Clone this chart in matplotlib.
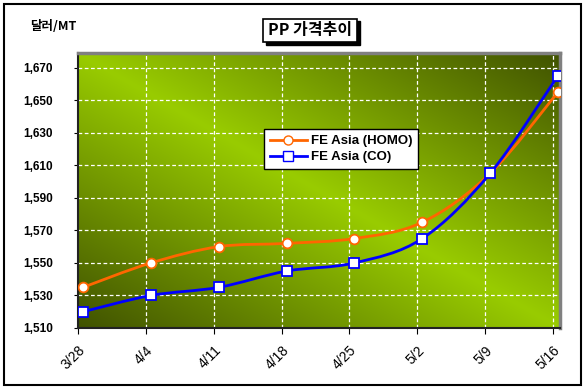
import numpy as np
import matplotlib
matplotlib.use("Agg")
import matplotlib.pyplot as plt
from matplotlib.path import Path
from matplotlib.patches import PathPatch, Rectangle
from matplotlib.lines import Line2D

plt.rcParams['font.family'] = ['Noto Sans CJK KR', 'DejaVu Sans']

dates = ["3/28", "4/4", "4/11", "4/18", "4/25", "5/2", "5/9", "5/16"]
homo = [1535, 1550, 1560, 1562, 1565, 1575, 1605, 1655]
co = [1520, 1530, 1535, 1545, 1550, 1565, 1605, 1665]
yticks = [1510, 1530, 1550, 1570, 1590, 1610, 1630, 1650, 1670]

title = "PP 가격추이"
unit = "달러/MT"
names = ["FE Asia (HOMO)", "FE Asia (CO)"]

ORANGE = "#FF6600"
BLUE = "#0000FF"
LIGHT = np.array([0x99, 0xCC, 0x00]) / 255
DARK = np.array([0x40, 0x52, 0x00]) / 255


def smooth_path(x, y):
    # Catmull-Rom style smoothing drawn as cubic Bezier segments
    pts = np.column_stack([x, y]).astype(float)
    verts = [pts[0]]
    codes = [Path.MOVETO]
    n = len(pts)
    for i in range(n - 1):
        p0 = pts[max(i - 1, 0)]
        p1 = pts[i]
        p2 = pts[i + 1]
        p3 = pts[min(i + 2, n - 1)]
        c1 = p1 + (p2 - p0) / 6
        c2 = p2 - (p3 - p1) / 6
        verts += [c1, c2, p2]
        codes += [Path.CURVE4] * 3
    return Path(verts, codes)


fig = plt.figure(figsize=(5.88, 3.91), dpi=100)
fig.patches.append(Rectangle((4 / 588, 1 - 385 / 391), 577 / 588, 381 / 391,
                             transform=fig.transFigure, fill=False,
                             edgecolor="black", lw=1.5))

ax = fig.add_axes([78 / 588, 1 - 328 / 391, 482 / 588, 275 / 391])

x = np.arange(len(dates))
xoff = 0.075
xlim = (-xoff, 7.03)
ylim = (1510, 1679)

# gradient background: light along top-left -> bottom-right diagonal
u = np.linspace(0, 1, 300)
w = np.linspace(0, 1, 200)   # row 0 = top
U, W = np.meshgrid(u, w)
t = 1 - np.abs(U - W)
img = DARK[None, None, :] + (LIGHT - DARK)[None, None, :] * t[:, :, None]
ax.imshow(img, extent=(xlim[0], xlim[1], ylim[0], ylim[1]), origin="upper",
          aspect="auto", zorder=0, interpolation="bilinear")

ax.set_xlim(*xlim)
ax.set_ylim(*ylim)

for tx in x[1:] - xoff:
    ax.axvline(tx, color="white", lw=0.9, ls=(0, (3, 2)), zorder=1)
for ty in yticks[1:]:
    ax.axhline(ty, color="white", lw=0.9, ls=(0, (3, 2)), zorder=1)

for vals, col, mk, ms in [(homo, ORANGE, "o", 7), (co, BLUE, "s", 7.5)]:
    ax.add_patch(PathPatch(smooth_path(x, vals), facecolor="none",
                           edgecolor=col, lw=2, zorder=3))
    ax.plot(x, vals, ls="none", marker=mk, ms=ms, mfc="white", mec=col,
            mew=1.3, zorder=4)

ax.set_xticks(x - xoff)
ax.set_xticklabels(dates, rotation=45, ha="right", rotation_mode="anchor",
                   fontsize=10, family=["Liberation Sans"])
ax.set_yticks(yticks)
ax.set_yticklabels([f"{v:,}" for v in yticks], fontsize=8.5, fontweight="bold",
                   family=["Liberation Sans"])
ax.tick_params(axis="x", length=4, pad=7, direction="out")
ax.tick_params(axis="y", length=3, pad=15, direction="out")

for s in ["top", "right"]:
    ax.spines[s].set_color("#808080")
    ax.spines[s].set_linewidth(2.5)
for s in ["left", "bottom"]:
    ax.spines[s].set_color("#222222")
    ax.spines[s].set_linewidth(1.5)

handles = [Line2D([], [], color=ORANGE, lw=2, marker="o", ms=6.5, mfc="white", mec=ORANGE),
           Line2D([], [], color=BLUE, lw=2, marker="s", ms=7, mfc="white", mec=BLUE)]
leg = fig.legend(handles, names, loc="upper left",
                 bbox_to_anchor=(264 / 588, 1 - 129 / 391), bbox_transform=fig.transFigure,
                 borderaxespad=0, fancybox=False, framealpha=1, edgecolor="black",
                 handlelength=2.8, handletextpad=0.3, borderpad=0.45, labelspacing=0.3,
                 prop={"family": "Liberation Sans", "weight": "bold", "size": 9.5})
leg.get_frame().set_linewidth(1.0)

# title box with shadow
tb = (263 / 588, 1 - 42 / 391, 94 / 588, 23 / 391)
fig.patches.append(Rectangle((tb[0] + 2.5 / 588, tb[1] - 2.5 / 391), tb[2], tb[3],
                             transform=fig.transFigure, facecolor="black", edgecolor="black"))
fig.patches.append(Rectangle(tb[:2], tb[2], tb[3], transform=fig.transFigure,
                             facecolor="white", edgecolor="black", lw=1.2))
fig.text(tb[0] + tb[2] / 2, tb[1] + tb[3] / 2, title, ha="center", va="center",
         fontsize=11.5, fontweight="bold")

fig.text(30 / 588, 1 - 27 / 391, unit, ha="left", va="center",
         fontsize=9, fontweight="bold")

fig.savefig("out.png", dpi=100)
